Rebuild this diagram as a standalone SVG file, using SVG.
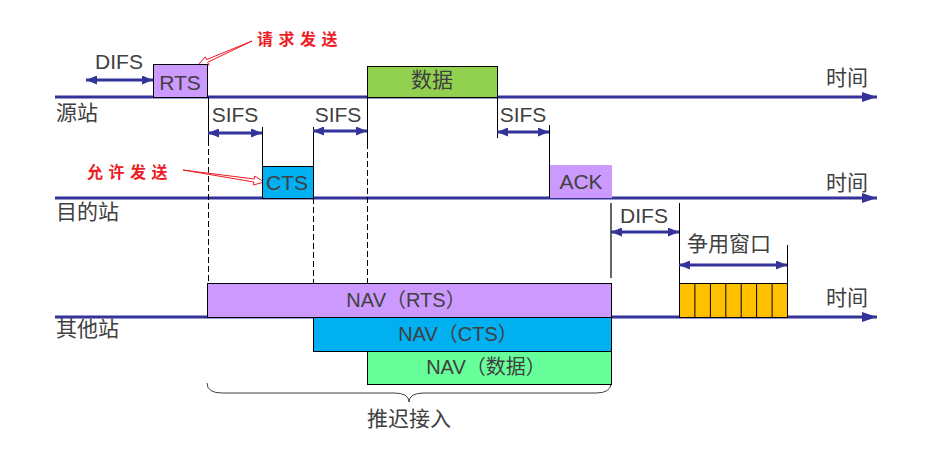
<svg xmlns="http://www.w3.org/2000/svg" width="928" height="465" viewBox="0 0 928 465">
<style>
.t{font-family:"Liberation Sans","Noto Sans CJK SC",sans-serif;font-size:21px;fill:#404040}
.m{text-anchor:middle}
.r{font-family:"Noto Sans CJK SC","Liberation Serif",serif;font-size:16px;font-weight:bold;fill:#ee1c24;letter-spacing:5.5px}
.tl{stroke:#333399;stroke-width:3;fill:none}
.da{stroke:#333399;stroke-width:3;fill:none;marker-start:url(#ah);marker-end:url(#ah)}
.v{stroke:#000;stroke-width:1;fill:none}
.d{stroke:#000;stroke-width:1;stroke-dasharray:6 3;fill:none}
.box{stroke:#000;stroke-width:1}
.ra{fill:#fff;stroke:#ee1c24;stroke-width:1}
</style>
<defs>
<marker id="ah" markerUnits="userSpaceOnUse" markerWidth="11" markerHeight="9" refX="11" refY="4.5" orient="auto-start-reverse"><path d="M0,0 L11,4.5 L0,9 z" fill="#333399"/></marker>
<marker id="th" markerUnits="userSpaceOnUse" markerWidth="15" markerHeight="10" refX="15" refY="5" orient="auto"><path d="M0,0 L15,5 L0,10 z" fill="#333399"/></marker>
</defs>

<g id="connectors">
<!-- timelines -->
<line class="tl" x1="55" y1="97" x2="877" y2="97" marker-end="url(#th)"/>
<line class="tl" x1="55" y1="198" x2="877" y2="198" marker-end="url(#th)"/>
<line class="tl" x1="55" y1="317" x2="877" y2="317" marker-end="url(#th)"/>
<!-- solid vertical ticks -->
<line class="v" x1="208.5" y1="97" x2="208.5" y2="140"/>
<line class="v" x1="262.5" y1="127" x2="262.5" y2="166"/>
<line class="v" x1="313.5" y1="127" x2="313.5" y2="198"/>
<line class="v" x1="367.5" y1="97" x2="367.5" y2="143"/>
<line class="v" x1="497.5" y1="97" x2="497.5" y2="138"/>
<line class="v" x1="549.5" y1="125" x2="549.5" y2="198"/>
<line x1="611" y1="203" x2="611" y2="278" stroke="#333" stroke-width="1.5"/>
<line class="v" x1="679.5" y1="203" x2="679.5" y2="283"/>
<line class="v" x1="787.5" y1="245" x2="787.5" y2="285"/>
<!-- dashed lines -->
<line class="d" x1="208.5" y1="140" x2="208.5" y2="282"/>
<line class="d" x1="313.5" y1="198" x2="313.5" y2="284"/>
<line class="d" x1="367.5" y1="143" x2="367.5" y2="283"/>
<!-- interval arrows -->
<line class="da" x1="86" y1="80" x2="153" y2="80"/>
<line class="da" x1="208" y1="133" x2="262" y2="133"/>
<line class="da" x1="313" y1="131" x2="367" y2="131"/>
<line class="da" x1="497" y1="132" x2="549" y2="132"/>
<line class="da" x1="611" y1="232" x2="679" y2="232"/>
<line class="da" x1="679" y1="265" x2="787" y2="265"/>
<!-- red callout arrows -->
<polygon class="ra" points="252,41 206.5,59.6 205.3,56.8 198,65 208.9,65 207.7,62.3"/>
<polygon class="ra" points="183,170 253.9,182 253.4,185 264,182 254.8,176 254.3,179"/>
<!-- brace -->
<path d="M207,383 Q207,393 222,393 L394,393 Q409,393 409,402 Q409,393 424,393 L596,393 Q611,393 611,383" fill="none" stroke="#404040" stroke-width="1"/>
</g>

<g id="labels">
<text class="t" x="56" y="120">源站</text>
<text class="t" x="56" y="219">目的站</text>
<text class="t" x="56" y="336">其他站</text>
<text class="t" x="826" y="85">时间</text>
<text class="t" x="826" y="190">时间</text>
<text class="t" x="826" y="305">时间</text>
<text class="t m" x="119" y="69">DIFS</text>
<text class="t m" x="235" y="122">SIFS</text>
<text class="t m" x="338" y="122">SIFS</text>
<text class="t m" x="523" y="122">SIFS</text>
<text class="t m" x="644" y="223">DIFS</text>
<text class="t m" x="729" y="251">争用窗口</text>
<text class="t m" x="409" y="426">推迟接入</text>
<text class="r" x="257" y="45">请求发送</text>
<text class="r" x="87" y="178">允许发送</text>
</g>

<g id="rts">
<rect class="box" x="153.5" y="64.5" width="54" height="33" fill="#cc99ff"/>
<text class="t m" x="180" y="90">RTS</text>
</g>
<g id="data">
<rect class="box" x="367.5" y="66.5" width="130" height="31" fill="#92d050"/>
<text class="t m" x="432" y="87">数据</text>
</g>
<g id="cts">
<rect class="box" x="262.5" y="166.5" width="51" height="32" fill="#00b0f0"/>
<text class="t m" x="287" y="190">CTS</text>
</g>
<g id="ack">
<rect x="549" y="165" width="63" height="33" fill="#cc99ff"/>
<line class="v" x1="549.5" y1="165" x2="549.5" y2="198"/>
<text class="t m" x="581" y="189">ACK</text>
</g>
<g id="window">
<rect class="box" x="679.5" y="283.5" width="108" height="34" fill="#ffc000"/>
<path class="v" d="M694.9,283V317M710.4,283V317M725.8,283V317M741.2,283V317M756.6,283V317M772.1,283V317"/>
</g>
<g id="nav-rts">
<rect class="box" x="207.5" y="283.5" width="404" height="34" fill="#cc99ff"/>
<text class="t m" x="406" y="307" style="font-size:20px">NAV（RTS）</text>
</g>
<g id="nav-cts">
<rect class="box" x="313.5" y="317.5" width="298" height="34" fill="#00b0f0"/>
<text class="t m" x="458" y="341" style="font-size:20px">NAV（CTS）</text>
</g>
<g id="nav-data">
<rect class="box" x="367.5" y="351.5" width="244" height="33" fill="#66ff99"/>
<text class="t m" x="486" y="374" style="font-size:20px">NAV（数据）</text>
</g>
</svg>
